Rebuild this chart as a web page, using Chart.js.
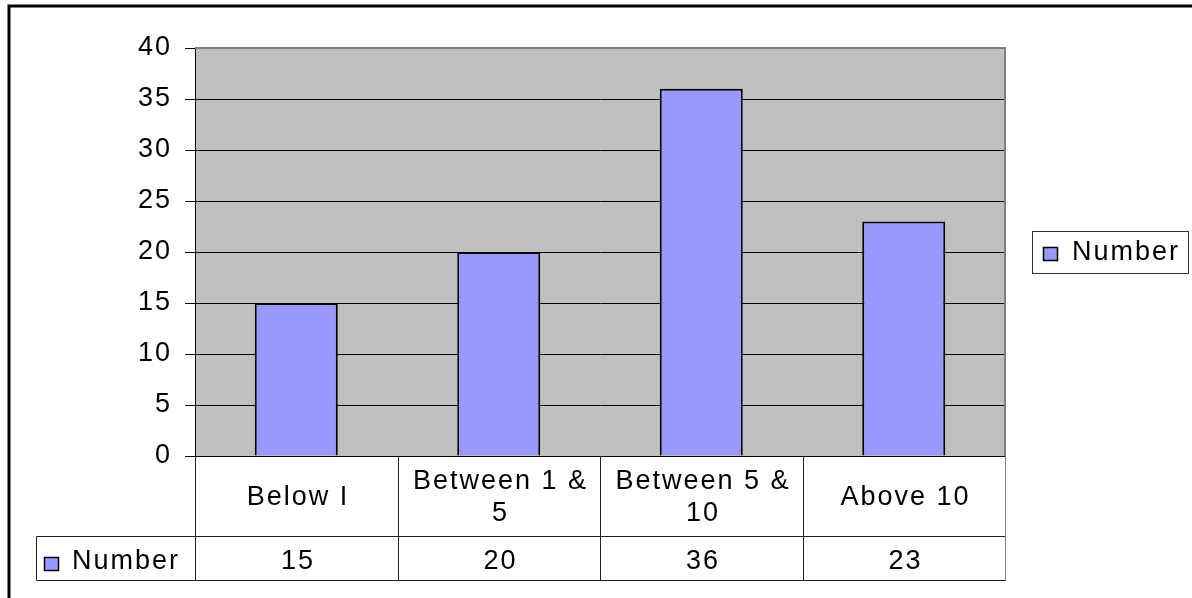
<!DOCTYPE html>
<html>
<head>
<meta charset="utf-8">
<script src="https://cdn.jsdelivr.net/npm/chart.js@4.4.1/dist/chart.umd.min.js"></script>
<style>
html, body { margin: 0; padding: 0; background: #fff; }
</style>
</head>
<body>
<canvas id="c" width="1192" height="598"></canvas>
<script>
// data
const categories = [['Below I'], ['Between 1 &', '5'], ['Between 5 &', '10'], ['Above 10']];
const seriesName = 'Number';
const numbers = [15, 20, 36, 23];

const FONT = '27px "Liberation Sans", Arial, sans-serif';
const SPACING = 2;
const BAR_FILL = '#9999ff';

function swatch(ctx, x, y) {
    ctx.fillStyle = BAR_FILL;
    ctx.fillRect(x, y, 15, 14);
    ctx.strokeStyle = '#000';
    ctx.lineWidth = 1.5;
    ctx.strokeRect(x + 0.5, y + 0.5, 14, 13);
}

// gray plot area, letter spacing for the excel-ish text
const plotBack = {
    id: 'plotBack',
    beforeDraw(chart) {
        const { ctx, chartArea: a } = chart;
        ctx.save();
        ctx.fillStyle = '#c0c0c0';
        ctx.fillRect(a.left, a.top, a.right - a.left, a.bottom - a.top);
        ctx.restore();
        ctx.letterSpacing = SPACING + 'px';
    }
};

// data table under the axis, legend, outer frame
const dataTable = {
    id: 'dataTable',
    afterDraw(chart) {
        const { ctx, chartArea: a } = chart;
        const x = chart.scales.x;
        const half = (x.getPixelForValue(1) - x.getPixelForValue(0)) / 2;
        const edges = categories.map((_, i) => Math.round(x.getPixelForValue(i) - half) + 0.5);
        edges.push(Math.round(x.getPixelForValue(categories.length - 1) + half) + 0.5);

        const top = Math.round(a.bottom) + 0.5;
        const mid = top + 80;
        const bot = mid + 44;
        const keyLeft = 36.5;

        ctx.save();
        ctx.letterSpacing = SPACING + 'px';

        // plot border top/right
        ctx.strokeStyle = '#808080';
        ctx.lineWidth = 2;
        ctx.beginPath();
        ctx.moveTo(a.left, a.top);
        ctx.lineTo(a.right, a.top);
        ctx.lineTo(a.right, a.bottom);
        ctx.stroke();

        // table lines
        ctx.lineWidth = 1;
        ctx.strokeStyle = '#222';
        ctx.beginPath();
        edges.forEach((e) => {
            ctx.moveTo(e, top);
            ctx.lineTo(e, bot);
        });
        ctx.moveTo(keyLeft, mid);
        ctx.lineTo(keyLeft, bot);
        ctx.moveTo(keyLeft, mid);
        ctx.lineTo(edges[edges.length - 1], mid);
        ctx.moveTo(keyLeft, bot);
        ctx.lineTo(edges[edges.length - 1], bot);
        ctx.stroke();
        ctx.strokeStyle = '#808080';
        ctx.beginPath();
        ctx.moveTo(edges[edges.length - 1], top);
        ctx.lineTo(edges[edges.length - 1], bot);
        ctx.stroke();

        // texts
        ctx.fillStyle = '#000';
        ctx.font = FONT;
        ctx.textAlign = 'center';
        ctx.textBaseline = 'middle';
        const rowY = (mid + bot) / 2 + 3;
        categories.forEach((lines, i) => {
            const cx = (edges[i] + edges[i + 1]) / 2 + SPACING / 2;
            const lh = 32;
            const y0 = (top + mid) / 2 - (lines.length - 1) * lh / 2 + 1;
            lines.forEach((t, j) => ctx.fillText(t, cx, y0 + j * lh));
            ctx.fillText(String(numbers[i]), cx, rowY);
        });

        // key cell
        swatch(ctx, 44, 557);
        ctx.textAlign = 'left';
        ctx.fillStyle = '#000';
        ctx.fillText(seriesName, 72, rowY);

        // legend box on the right
        ctx.strokeStyle = '#333';
        ctx.lineWidth = 1;
        ctx.strokeRect(1032.5, 231.5, 156, 42);
        swatch(ctx, 1043, 247);
        ctx.fillStyle = '#000';
        ctx.fillText(seriesName, 1072, 253);

        // outer frame (top and left)
        ctx.strokeStyle = '#000';
        ctx.lineWidth = 3;
        ctx.beginPath();
        ctx.moveTo(1192, 6);
        ctx.lineTo(9, 6);
        ctx.lineTo(9, 598);
        ctx.stroke();
        ctx.restore();
    }
};

new Chart(document.getElementById('c'), {
    type: 'bar',
    data: {
        labels: categories.map(c => c.join(' ')),
        datasets: [{
            label: seriesName,
            data: numbers,
            backgroundColor: BAR_FILL,
            borderColor: '#000',
            borderWidth: 2,
            barPercentage: 0.41,
            categoryPercentage: 1
        }]
    },
    options: {
        responsive: false,
        animation: false,
        events: [],
        layout: { padding: { left: 0, top: 48, right: 187, bottom: 142 } },
        plugins: {
            legend: { display: false },
            tooltip: { enabled: false }
        },
        scales: {
            x: { display: false },
            y: {
                min: 0,
                max: 40,
                ticks: {
                    stepSize: 5,
                    color: '#000',
                    padding: 13,
                    font: { family: '"Liberation Sans", Arial, sans-serif', size: 27 }
                },
                grid: { color: '#000', lineWidth: 1, tickLength: 10, tickColor: '#000' },
                border: { color: '#000', width: 1 },
                afterFit(scale) { scale.width = 195; }
            }
        }
    },
    plugins: [plotBack, dataTable]
});
</script>
</body>
</html>
